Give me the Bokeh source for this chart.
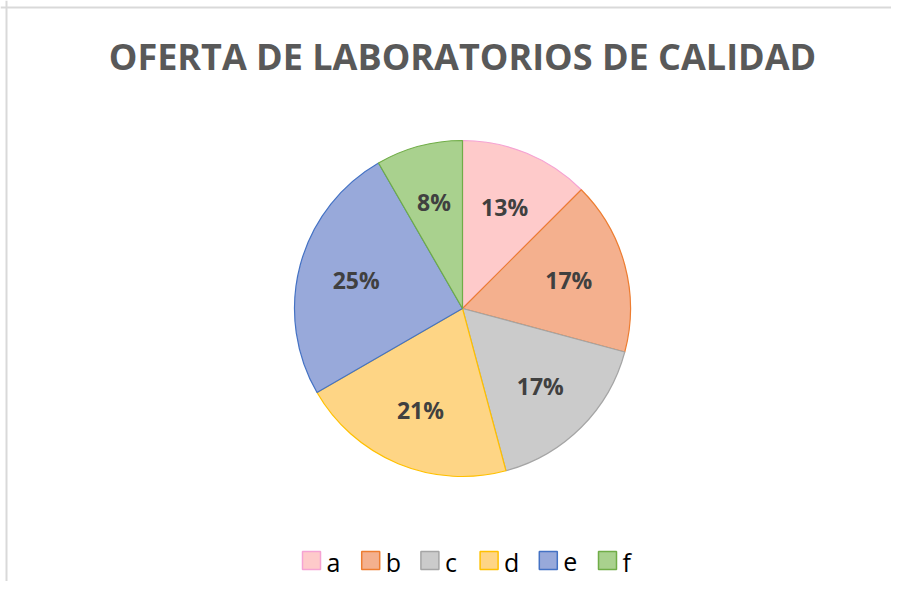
import numpy as np
from bokeh.plotting import figure
from bokeh.models import Range1d, Span, ColumnDataSource
from bokeh.core.properties import value
from bokeh.embed import file_html
from bokeh.resources import INLINE

# ---- data ----
categories = ["a", "b", "c", "d", "e", "f"]
counts = [3, 4, 4, 5, 6, 2]
fill_colors = ["#FECACA", "#F4B08E", "#CBCBCB", "#FED585", "#98A9DA", "#A9D18E"]
line_colors = ["#F5A3D3", "#ED7D31", "#A5A5A5", "#FFC000", "#4472C4", "#70AD47"]
title_text = "OFERTA DE LABORATORIOS DE CALIDAD"

# ---- layout (pixels) ----
W, H = 891, 581
cx, cy = 462, H - 308      # pie centre (data coords, y up)
R = 168
label_r = 0.655 * R

vals = np.array(counts, dtype=float)
total = vals.sum()
frac = vals / total
cum_end = np.cumsum(frac)
cum_start = cum_end - frac
start_angle = np.pi / 2 - cum_start * 2 * np.pi
end_angle = np.pi / 2 - cum_end * 2 * np.pi
mid = (start_angle + end_angle) / 2
labels = [f"{int(np.floor(f * 100 + 0.5))}%" for f in frac]

src = ColumnDataSource(dict(
    cat=categories, start=start_angle, end=end_angle,
    fill=fill_colors, line=line_colors,
    lx=cx + label_r * np.cos(mid), ly=cy + label_r * np.sin(mid), lab=labels,
    x=[cx] * len(categories), y=[cy] * len(categories),
))

p = figure(width=W, height=H, x_range=Range1d(0, W), y_range=Range1d(0, H),
           output_backend="svg", toolbar_location=None, min_border=0,
           outline_line_color=None)
p.axis.visible = False
p.grid.visible = False
p.background_fill_color = "white"

# chart border (top & left only visible in reference)
p.add_layout(Span(location=H - 7, dimension="width", line_color="#D9D9D9", line_width=2))
p.add_layout(Span(location=6, dimension="height", line_color="#D9D9D9", line_width=2))

# title
p.text(x=[cx], y=[H - 56], text=[title_text], text_font=value("Open Sans"),
       text_font_style="bold", text_font_size="36px", text_color="#595959",
       text_align="center", text_baseline="middle")

# pie
p.wedge(x="x", y="y", radius=R, start_angle="start", end_angle="end",
        direction="clock", fill_color="fill", line_color="line", line_width=1.2,
        source=src)

p.text(x="lx", y="ly", text="lab", source=src, text_font=value("Open Sans"),
       text_font_style="bold", text_font_size="23px", text_color="#404040",
       text_align="center", text_baseline="middle")

# legend
leg_x0, leg_step, leg_y = 311, 59.2, H - 560
lx = [leg_x0 + i * leg_step for i in range(len(categories))]
p.scatter(x=lx, y=[leg_y] * len(categories), marker="square", size=18,
          fill_color=fill_colors, line_color=line_colors, line_width=1.5)
p.text(x=[v + 15 for v in lx], y=[leg_y - 1] * len(categories), text=categories,
       text_font=value("Open Sans"), text_font_size="25px", text_color="#000000",
       text_align="left", text_baseline="middle")

open("out.html", "w").write(file_html(p, INLINE))
